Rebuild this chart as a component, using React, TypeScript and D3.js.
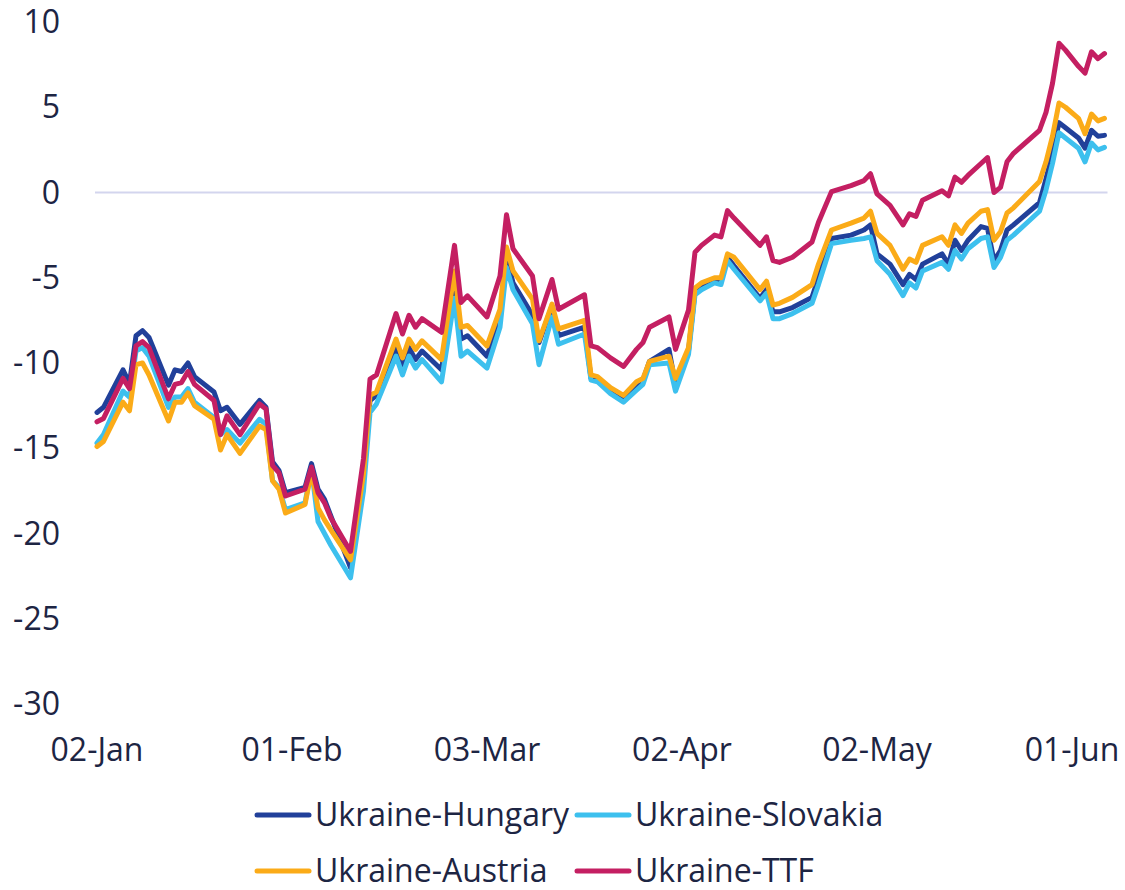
import React, { useRef, useEffect } from 'react';
import * as d3 from 'd3';

// spread series, 2023 at the visible vertices
const dates = [
    '01-02', '01-03', '01-06', '01-07', '01-08', '01-09', '01-10', '01-13', '01-14', '01-15',
    '01-16', '01-17', '01-20', '01-21', '01-22', '01-24', '01-27', '01-28', '01-29', '01-30',
    '01-31', '02-03', '02-04', '02-05', '02-06', '02-07', '02-10', '02-12', '02-13', '02-14',
    '02-17', '02-18', '02-19', '02-20', '02-21', '02-24', '02-26', '02-27', '02-28', '03-03',
    '03-05', '03-06', '03-07', '03-10', '03-11', '03-13', '03-14', '03-18', '03-19', '03-20',
    '03-22', '03-24', '03-26', '03-27', '03-28', '03-31', '04-01', '04-03', '04-04', '04-05',
    '04-07', '04-08', '04-09', '04-10', '04-14', '04-15', '04-16', '04-17', '04-19', '04-22',
    '04-23', '04-25', '04-28', '04-30', '05-01', '05-02', '05-04', '05-06', '05-07', '05-08',
    '05-09', '05-12', '05-13', '05-14', '05-15', '05-16', '05-18', '05-19', '05-20', '05-21',
    '05-22', '05-23', '05-27', '05-28', '05-29', '05-30', '05-31', '06-02', '06-03', '06-04',
    '06-05', '06-06'
];

const hungary = [
    -12.9, -12.6, -10.4, -11.2, -8.4, -8.1, -8.5, -11.3, -10.4, -10.5,
    -10.0, -10.8, -11.7, -12.8, -12.6, -13.6, -12.2, -12.6, -15.8, -16.3,
    -17.6, -17.3, -15.9, -17.4, -18.0, -19.0, -22.0, -16.5, -12.2, -11.9,
    -9.1, -10.3, -9.1, -9.8, -9.3, -10.4, -5.0, -8.6, -8.4, -9.6,
    -7.3, -3.7, -5.3, -7.2, -8.8, -6.65, -8.4, -7.9, -10.9, -11.0,
    -11.6, -12.1, -11.3, -11.0, -9.9, -9.2, -11.3, -9.3, -5.8, -5.5,
    -5.2, -5.2, -3.8, -4.3, -6.2, -5.7, -7.0, -7.0, -6.75, -6.15,
    -5.0, -2.7, -2.5, -2.2, -1.9, -3.6, -4.2, -5.4, -4.8, -5.1,
    -4.2, -3.6, -4.2, -2.8, -3.4, -2.8, -2.0, -2.1, -4.0, -3.4,
    -2.2, -1.9, -0.6, 0.8, 2.3, 4.1, 3.8, 3.2, 2.6, 3.65,
    3.3, 3.35
];

const slovakia = [
    -14.7, -14.2, -11.65, -12.0, -9.3, -9.1, -9.6, -12.6, -12.0, -12.0,
    -11.5, -12.3, -13.2, -14.2, -13.9, -14.7, -13.3, -13.6, -16.9, -17.3,
    -18.6, -18.2, -16.2, -19.3, -20.0, -20.7, -22.6, -17.5, -12.9, -12.4,
    -9.6, -10.7, -9.6, -10.3, -9.8, -11.1, -6.2, -9.6, -9.3, -10.3,
    -7.9, -4.4, -5.7, -7.7, -10.1, -7.3, -8.9, -8.3, -11.0, -11.1,
    -11.8, -12.3, -11.6, -11.25, -10.1, -10.0, -11.65, -9.5, -6.0, -5.7,
    -5.3, -5.4, -4.0, -4.5, -6.35, -5.9, -7.4, -7.4, -7.1, -6.5,
    -5.4, -3.0, -2.8, -2.7, -2.6, -4.0, -4.8, -6.05, -5.3, -5.6,
    -4.6, -4.1, -4.5, -3.4, -3.9, -3.3, -2.7, -2.6, -4.4, -3.8,
    -2.8, -2.5, -1.1, 0.15, 1.7, 3.5, 3.2, 2.6, 1.8, 2.9,
    2.5, 2.65
];

const austria = [
    -14.9, -14.6, -12.3, -12.8, -10.1, -10.0, -10.7, -13.4, -12.3, -12.3,
    -11.75, -12.5, -13.3, -15.1, -14.2, -15.3, -13.7, -13.9, -16.9, -17.4,
    -18.8, -18.3, -16.3, -18.5, -19.2, -19.8, -21.55, -16.5, -11.9, -11.7,
    -8.6, -9.7, -8.6, -9.2, -8.7, -9.8, -4.6, -7.9, -7.8, -9.0,
    -6.85, -3.2, -4.6, -6.25, -8.7, -6.55, -8.0, -7.5, -10.7, -10.8,
    -11.45, -11.9, -11.1, -10.9, -9.9, -9.6, -10.9, -9.1, -5.6, -5.3,
    -5.0, -5.0, -3.6, -3.8, -5.7, -5.2, -6.6, -6.5, -6.15, -5.4,
    -4.2, -2.2, -1.8, -1.5, -1.1, -2.4, -3.1, -4.5, -3.9, -4.1,
    -3.1, -2.6, -3.1, -1.9, -2.4, -1.8, -1.1, -1.0, -2.8, -2.3,
    -1.2, -0.9, 0.65, 1.8, 3.3, 5.25, 5.0, 4.35, 3.45, 4.6,
    4.2, 4.35
];

const ttf = [
    -13.45, -13.25, -10.9, -11.5, -9.0, -8.75, -9.1, -12.1, -11.25, -11.15,
    -10.5, -11.25, -12.2, -14.2, -13.1, -14.2, -12.4, -12.7, -16.0, -16.45,
    -17.8, -17.4, -16.1, -17.6, -18.2, -19.1, -21.05, -15.6, -10.95, -10.7,
    -7.1, -8.3, -7.2, -7.9, -7.4, -8.2, -3.1, -6.45, -6.06, -7.3,
    -4.9, -1.3, -3.3, -4.9, -7.4, -5.1, -6.85, -6.0, -9.0, -9.1,
    -9.7, -10.2, -9.2, -8.8, -7.9, -7.3, -9.2, -6.9, -3.5, -3.1,
    -2.5, -2.6, -1.06, -1.5, -3.1, -2.6, -4.0, -4.1, -3.8, -2.9,
    -1.75, 0.05, 0.4, 0.7, 1.1, -0.08, -0.75, -1.9, -1.25, -1.4,
    -0.45, 0.1, -0.2, 0.9, 0.6, 1.0, 1.7, 2.05, 0.0, 0.3,
    1.8, 2.3, 3.65, 4.7, 6.4, 8.75, 8.35, 7.4, 7.0, 8.25,
    7.85, 8.15
];

const seriesNames = ['Ukraine-Hungary', 'Ukraine-Slovakia', 'Ukraine-Austria', 'Ukraine-TTF'];
const seriesColors = ['#21409a', '#3dc0ee', '#fbab18', '#c41f62'];

const xTickDates = ['2023-01-02', '2023-02-01', '2023-03-03', '2023-04-02', '2023-05-02', '2023-06-01'];
const yTicks = [10, 5, 0, -5, -10, -15, -20, -25, -30];

const textColor = '#1d2543';
const fontFamily = '"Open Sans", sans-serif';

function SpreadChart() {
    const chartRef = useRef(null);
    const width = 1125, height = 890;

    useEffect(() => {
        const svg = d3.select(chartRef.current);
        svg.selectAll('*').remove();

        const parse = d3.timeParse('%Y-%m-%d');
        const xScale = d3.scaleTime()
            .domain([parse('2023-01-02'), parse('2023-06-01')])
            .range([97, 1072]);
        const yScale = d3.scaleLinear()
            .domain([-30, 10])
            .range([704, 22]);

        const xs = dates.map(d => parse('2023-' + d));
        const allSeries = [hungary, slovakia, austria, ttf];

        // zero line
        svg.append('line')
            .attr('x1', xScale(xs[0]) - 2)
            .attr('x2', xScale(xs[xs.length - 1]) + 3)
            .attr('y1', yScale(0))
            .attr('y2', yScale(0))
            .attr('stroke', '#d3d5ee')
            .attr('stroke-width', 2);

        // y labels
        svg.append('g').selectAll('text').data(yTicks).join('text')
            .attr('x', 60)
            .attr('y', d => yScale(d))
            .attr('dy', '0.35em')
            .attr('text-anchor', 'end')
            .attr('fill', textColor)
            .style('font-family', fontFamily)
            .style('font-size', '32px')
            .text(d => String(d));

        // x labels
        const fmt = d3.timeFormat('%d-%b');
        svg.append('g').selectAll('text').data(xTickDates).join('text')
            .attr('x', d => xScale(parse(d)))
            .attr('y', 750)
            .attr('dy', '0.35em')
            .attr('text-anchor', 'middle')
            .attr('fill', textColor)
            .style('font-family', fontFamily)
            .style('font-size', '32px')
            .text(d => fmt(parse(d)));

        const line = d3.line()
            .x((d, i) => xScale(xs[i]))
            .y(d => yScale(d));

        allSeries.forEach((s, k) => {
            svg.append('path')
                .datum(s)
                .attr('d', line)
                .attr('fill', 'none')
                .attr('stroke', seriesColors[k])
                .attr('stroke-width', 5)
                .attr('stroke-linejoin', 'round')
                .attr('stroke-linecap', 'round');
        });

        // legend, two rows of two
        const legendX = [257, 577];
        const legendY = [815, 871];
        seriesNames.forEach((name, k) => {
            const lx = legendX[k % 2], ly = legendY[Math.floor(k / 2)];
            const g = svg.append('g');
            g.append('line')
                .attr('x1', lx).attr('x2', lx + 52)
                .attr('y1', ly).attr('y2', ly)
                .attr('stroke', seriesColors[k])
                .attr('stroke-width', 5)
                .attr('stroke-linecap', 'round');
            g.append('text')
                .attr('x', lx + 58)
                .attr('y', ly)
                .attr('dy', '0.35em')
                .attr('fill', textColor)
                .style('font-family', fontFamily)
                .style('font-size', '32px')
                .text(name);
        });
    }, []);

    return (
        <svg width={width} height={height} ref={chartRef}
            style={{ position: 'absolute', left: 0, top: 0, background: '#fff' }} />
    );
}

export default function App() {
    return <SpreadChart />;
}
